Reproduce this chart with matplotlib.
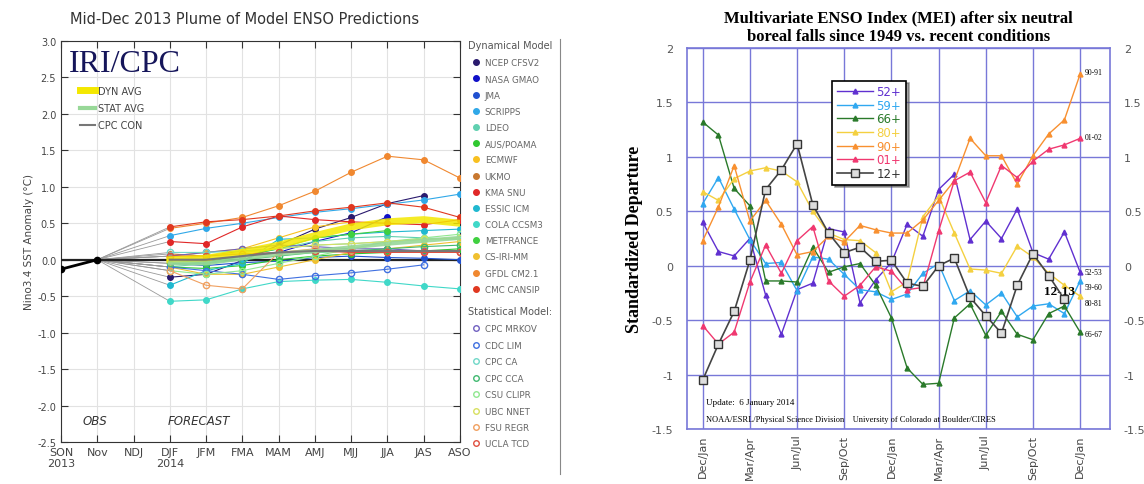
import numpy as np
import matplotlib
matplotlib.use("Agg")
import matplotlib.pyplot as plt
from matplotlib.lines import Line2D

nan = np.nan

# ---------------- left panel: IRI/CPC ENSO plume ----------------
seasons = ["SON\n2013", "Nov", "NDJ", "DJF\n2014", "JFM", "FMA", "MAM",
           "AMJ", "MJJ", "JJA", "JAS", "ASO"]
obs = [-0.13, 0.0]

# dynamical models, DJF .. ASO
ncep_cfsv2 = [-0.24, -0.20, -0.01, 0.20, 0.42, 0.58, 0.77, 0.88, nan]
nasa_gmao = [0.00, -0.02, 0.05, 0.10, 0.25, 0.37, 0.59, nan, nan]
jma = [-0.05, -0.08, -0.04, -0.02, 0.03, 0.05, 0.03, 0.02, 0.0]
scripps = [0.33, 0.43, 0.50, 0.58, 0.65, 0.70, 0.76, 0.82, 0.90]
ldeo = [-0.10, -0.05, 0.05, 0.15, 0.25, 0.30, 0.32, 0.30, 0.28]
aus_poama = [-0.10, -0.12, -0.08, 0.00, 0.05, 0.08, 0.10, 0.12, 0.15]
ecmwf = [0.05, 0.10, 0.15, 0.30, 0.45, 0.52, nan, nan, nan]
ukmo = [0.08, 0.05, 0.12, 0.15, nan, nan, nan, nan, nan]
kma_snu = [0.25, 0.22, 0.45, 0.60, 0.55, 0.52, 0.50, 0.48, 0.55]
essic_icm = [-0.35, -0.15, -0.05, 0.28, 0.30, 0.35, 0.38, 0.40, 0.42]
cola_ccsm3 = [-0.57, -0.55, -0.40, -0.30, -0.28, -0.27, -0.31, -0.36, -0.40]
metfrance = [0.00, -0.05, 0.05, 0.15, 0.30, 0.35, 0.40, nan, nan]
cs_iri_mm = [-0.10, -0.20, -0.20, -0.10, 0.00, 0.10, 0.15, 0.20, 0.25]
gfdl_cm21 = [0.43, 0.50, 0.58, 0.74, 0.94, 1.20, 1.42, 1.37, 1.12]
cmc_cansip = [0.45, 0.52, 0.55, 0.60, 0.67, 0.72, 0.78, 0.72, 0.58]

# statistical models
cpc_mrkov = [0.05, 0.10, 0.15, 0.20, 0.18, 0.15, 0.15, 0.12, 0.10]
cdc_lim = [-0.10, -0.15, -0.20, -0.27, -0.22, -0.18, -0.13, -0.07, nan]
cpc_ca = [0.10, 0.10, 0.12, 0.15, 0.20, 0.22, 0.25, 0.28, 0.30]
cpc_cca = [-0.05, -0.05, 0.00, 0.05, 0.10, 0.12, 0.15, 0.18, 0.20]
csu_clipr = [-0.15, -0.20, -0.15, -0.05, 0.05, 0.15, 0.25, 0.30, 0.35]
ubc_nnet = [0.00, 0.05, 0.10, 0.15, 0.20, 0.22, 0.25, 0.28, 0.30]
fsu_regr = [-0.15, -0.35, -0.40, 0.10, 0.15, 0.12, 0.10, 0.10, 0.10]
ucla_tcd = [0.05, 0.05, 0.08, 0.10, 0.12, 0.10, 0.10, 0.10, 0.10]

dyn_avg = [0.00, 0.02, 0.10, 0.20, 0.33, 0.45, 0.52, 0.55, 0.50]
stat_avg = [-0.05, -0.05, 0.02, 0.08, 0.12, 0.17, 0.22, 0.26, 0.30]
cpc_con = [0.00, 0.00, 0.05, 0.10, 0.12, 0.12, 0.12, 0.12, 0.12]

dyn_models = [
    ("NCEP CFSv2", ncep_cfsv2, "#2a1a6e"),
    ("NASA GMAO", nasa_gmao, "#1010c8"),
    ("JMA", jma, "#2050d0"),
    ("SCRIPPS", scripps, "#30a8e8"),
    ("LDEO", ldeo, "#60d0b0"),
    ("AUS/POAMA", aus_poama, "#30c830"),
    ("ECMWF", ecmwf, "#f8c020"),
    ("UKMO", ukmo, "#c87830"),
    ("KMA SNU", kma_snu, "#e02828"),
    ("ESSIC ICM", essic_icm, "#20b8d0"),
    ("COLA CCSM3", cola_ccsm3, "#40d8c8"),
    ("MetFRANCE", metfrance, "#40d040"),
    ("CS-IRI-MM", cs_iri_mm, "#f0c030"),
    ("GFDL CM2.1", gfdl_cm21, "#f08830"),
    ("CMC CANSIP", cmc_cansip, "#e03820"),
]
stat_models = [
    ("CPC MRKOV", cpc_mrkov, "#7060c0"),
    ("CDC LIM", cdc_lim, "#4070e0"),
    ("CPC CA", cpc_ca, "#70d8c8"),
    ("CPC CCA", cpc_cca, "#40b870"),
    ("CSU CLIPR", csu_clipr, "#90e890"),
    ("UBC NNET", ubc_nnet, "#d8e060"),
    ("FSU REGR", fsu_regr, "#f0a060"),
    ("UCLA TCD", ucla_tcd, "#e05040"),
]

# ---------------- right panel: MEI ----------------
month_ticks = ["Dec/Jan", "Mar/Apr", "Jun/Jul", "Sep/Oct", "Dec/Jan",
               "Mar/Apr", "Jun/Jul", "Sep/Oct", "Dec/Jan"]
s52 = [0.40, 0.13, 0.09, 0.25, -0.27, -0.63, -0.22, -0.16, 0.34, 0.31, -0.34, -0.13, 0.03,
       0.38, 0.27, 0.70, 0.84, 0.24, 0.41, 0.25, 0.52, 0.12, 0.06, 0.31, -0.06]
s59 = [0.57, 0.81, 0.52, 0.24, 0.02, 0.03, -0.23, 0.08, 0.06, -0.08, -0.22, -0.24, -0.31,
       -0.26, -0.07, 0.02, -0.32, -0.23, -0.36, -0.25, -0.47, -0.37, -0.35, -0.44, -0.14]
s66 = [1.32, 1.20, 0.71, 0.55, -0.14, -0.14, -0.15, 0.17, -0.06, -0.01, 0.02, -0.18, -0.48,
       -0.94, -1.09, -1.08, -0.48, -0.35, -0.64, -0.42, -0.63, -0.68, -0.44, -0.37, -0.61]
s80 = [0.68, 0.60, 0.80, 0.87, 0.90, 0.87, 0.77, 0.50, 0.30, 0.24, 0.23, 0.12, -0.24,
       -0.15, 0.45, 0.64, 0.30, -0.03, -0.04, -0.07, 0.18, 0.08, -0.07, -0.18, -0.28]
s90 = [0.23, 0.54, 0.92, 0.41, 0.60, 0.38, 0.10, 0.13, 0.27, 0.22, 0.37, 0.33, 0.30,
       0.30, 0.42, 0.60, 0.78, 1.17, 1.01, 1.01, 0.75, 1.01, 1.21, 1.34, 1.76]
s01 = [-0.55, -0.72, -0.61, -0.15, 0.19, -0.07, 0.23, 0.36, -0.14, -0.28, -0.18, -0.01, -0.05,
       -0.22, -0.20, 0.32, 0.78, 0.86, 0.58, 0.92, 0.81, 0.96, 1.07, 1.11, 1.17]
s12 = [-1.05, -0.72, -0.42, 0.05, 0.70, 0.88, 1.12, 0.56, 0.30, 0.12, 0.17, 0.04, 0.05,
       -0.16, -0.19, 0.00, 0.07, -0.29, -0.46, -0.62, -0.18, 0.11, -0.09, -0.31, nan]

mei_series = [
    ("52+", "52-53", s52, "#6030d0"),
    ("59+", "59-60", s59, "#30a8f0"),
    ("66+", "66-67", s66, "#2a7a2a"),
    ("80+", "80-81", s80, "#f4d040"),
    ("90+", "90-91", s90, "#f89030"),
    ("01+", "01-02", s01, "#f03870"),
]

fig = plt.figure(figsize=(11.44, 4.85), dpi=100)
fig.patch.set_facecolor("white")

# ================= left =================
ax = fig.add_axes([61 / 1144, 1 - 443 / 485, 399 / 1144, 401 / 485])
xf = np.arange(3, 12)
ax.axhline(0, color="#222222", lw=1.6, zorder=3)
for name, vals, c in dyn_models + stat_models:
    ax.plot([1, 3], [0, vals[0]], color="#999999", lw=0.6, zorder=2)
for name, vals, c in dyn_models:
    ax.plot(xf, vals, color=c, lw=0.8, marker="o", ms=4, zorder=4)
for name, vals, c in stat_models:
    ax.plot(xf, vals, color=c, lw=0.8, marker="o", ms=4.5, mfc="none", mew=1, zorder=4)
ax.plot(xf, dyn_avg, color="#f4e800", lw=5, alpha=0.85, zorder=5)
ax.plot(xf, stat_avg, color="#98d898", lw=3, alpha=0.9, zorder=5)
ax.plot(xf, cpc_con, color="#777777", lw=1.5, zorder=5)
ax.plot([0, 1], obs, color="black", lw=2, marker="o", ms=4.5, zorder=6)

ax.set_xlim(0, 11)
ax.set_ylim(-2.5, 3.0)
ax.set_xticks(range(12))
ax.set_xticklabels(seasons, fontsize=8, color="#444444", va="top")
yt = np.arange(-2.5, 3.01, 0.5)
ax.set_yticks(yt)
ax.set_yticklabels(["%.1f" % v for v in yt], fontsize=7, color="#444444")
ax.tick_params(direction="in", top=True, right=True, length=5, width=0.8, color="#333333")
ax.grid(True, color="#e2e2e2", lw=0.8)
for s in ax.spines.values():
    s.set_color("#333333")
    s.set_linewidth(0.8)
ax.set_ylabel("Nino3.4 SST Anomaly (°C)", fontsize=7.5, color="#444444", labelpad=2)
ax.text(0.02, 0.945, "IRI/CPC", transform=ax.transAxes, fontsize=23,
        family="Liberation Serif", color="#15155a", va="center")
ax.text(0.6, -2.25, "OBS", fontsize=8.5, style="italic", color="#333333")
ax.text(2.95, -2.25, "FORECAST", fontsize=8.5, style="italic", color="#333333")
avg_handles = [Line2D([], [], color="#f4e800", lw=5),
               Line2D([], [], color="#98d898", lw=3),
               Line2D([], [], color="#777777", lw=1.5)]
ax.legend(avg_handles, ["DYN AVG", "STAT AVG", "CPC CON"], loc="upper left",
          bbox_to_anchor=(0.03, 0.905), frameon=False, fontsize=7, handlelength=1.6,
          handletextpad=0.3, labelspacing=0.75, borderpad=0.2,
          labelcolor="#444444")
fig.text(245 / 1144, 1 - 20 / 485, "Mid-Dec 2013 Plume of Model ENSO Predictions",
         fontsize=10.5, color="#333333", ha="center", va="center")

# model legends outside the axes
fig.text(468 / 1144, 1 - 46 / 485, "Dynamical Model", fontsize=7, color="#555555", va="center")
dyn_handles = [Line2D([], [], ls="none", marker="o", ms=4, color=c) for n, v, c in dyn_models]
fig.legend(dyn_handles, [n.upper() for n, v, c in dyn_models], loc="upper left",
           bbox_to_anchor=(468 / 1144, 1 - 55 / 485), frameon=False, fontsize=6.3,
           handlelength=0.8, handletextpad=0.6, labelspacing=0.82, borderpad=0,
           labelcolor="#666666")
fig.text(468 / 1144, 1 - 312 / 485, "Statistical Model:", fontsize=7, color="#555555", va="center")
stat_handles = [Line2D([], [], ls="none", marker="o", ms=4, mfc="none", color=c)
                for n, v, c in stat_models]
fig.legend(stat_handles, [n.upper() for n, v, c in stat_models], loc="upper left",
           bbox_to_anchor=(468 / 1144, 1 - 321 / 485), frameon=False, fontsize=6.3,
           handlelength=0.8, handletextpad=0.6, labelspacing=0.85, borderpad=0,
           labelcolor="#666666")
fig.add_artist(Line2D([560 / 1144, 560 / 1144], [1 - 40 / 485, 1 - 475 / 485],
                      transform=fig.transFigure, color="#888888", lw=0.8))

# ================= right =================
ax2 = fig.add_axes([687 / 1144, 1 - 430 / 485, 423 / 1144, 381 / 485])
grid_c = "#7878d8"
for s in ax2.spines.values():
    s.set_color(grid_c)
    s.set_linewidth(1.2)
months = np.arange(25)
handles = []
for lab, end_lab, vals, c in mei_series:
    h, = ax2.plot(months, vals, color=c, lw=1.0, marker="^", ms=3.5, zorder=3)
    handles.append(h)
h12, = ax2.plot(months, s12, color="#444444", lw=1.2, marker="s", ms=6,
                mfc="#dddddd", mec="#333333", mew=1, zorder=4)
handles.append(h12)

ax2.set_xlim(-1, 25.9)
ax2.set_ylim(-1.5, 2)
ax2.set_xticks(np.arange(0, 25, 3))
ax2.set_xticklabels(month_ticks, rotation=90, fontsize=8, color="#444444")
yt2 = [-1.5, -1, -0.5, 0, 0.5, 1, 1.5, 2]
ax2.set_yticks(yt2)
ax2.set_yticklabels(["-1.5", "-1", "-0.5", "0", "0.5", "1", "1.5", "2"],
                    fontsize=8, color="#555555")
ax2.tick_params(axis="y", right=True, labelright=True, length=0, pad=10)
ax2.tick_params(axis="x", length=0, pad=4)
ax2.grid(True, color=grid_c, lw=1.0, zorder=0)
ax2.set_axisbelow(True)
ax2.set_ylabel("Standardized Departure", fontsize=13, fontweight="bold",
               family="Liberation Serif", labelpad=6)
ax2.set_title("Multivariate ENSO Index (MEI) after six neutral\n"
              "boreal falls since 1949 vs. recent conditions",
              fontsize=12, fontweight="bold", family="Liberation Serif", pad=6)

end_y = [-0.06, -0.20, -0.63, -0.34, 1.78, 1.18]
for (lab, end_lab, vals, c), yv in zip(mei_series, end_y):
    ax2.text(24.3, yv, end_lab, fontsize=5.5, family="Liberation Serif", va="center")
ax2.text(21.7, -0.23, "12-13", fontsize=9.5, fontweight="bold",
         family="Liberation Serif", va="center")
ax2.text(0.2, -1.25, "Update:  6 January 2014", fontsize=6.5,
         family="Liberation Serif", va="center")
ax2.text(0.2, -1.41, "NOAA/ESRL/Physical Science Division    University of Colorado at Boulder/CIRES",
         fontsize=6, family="Liberation Serif", va="center")

lg = ax2.legend(handles, ["52+", "59+", "66+", "80+", "90+", "01+", "12+"],
                loc="upper left", bbox_to_anchor=(0.33, 0.93), shadow=True,
                fancybox=False, edgecolor="black", framealpha=1, fontsize=8.5,
                handlelength=3, labelspacing=0.05, borderpad=0.4, handletextpad=0.3)
lg.get_frame().set_linewidth(1.2)
for t, c in zip(lg.get_texts(), [c for l, e, v, c in mei_series] + ["#333333"]):
    t.set_color(c)

fig.savefig("out.png", dpi=100)
